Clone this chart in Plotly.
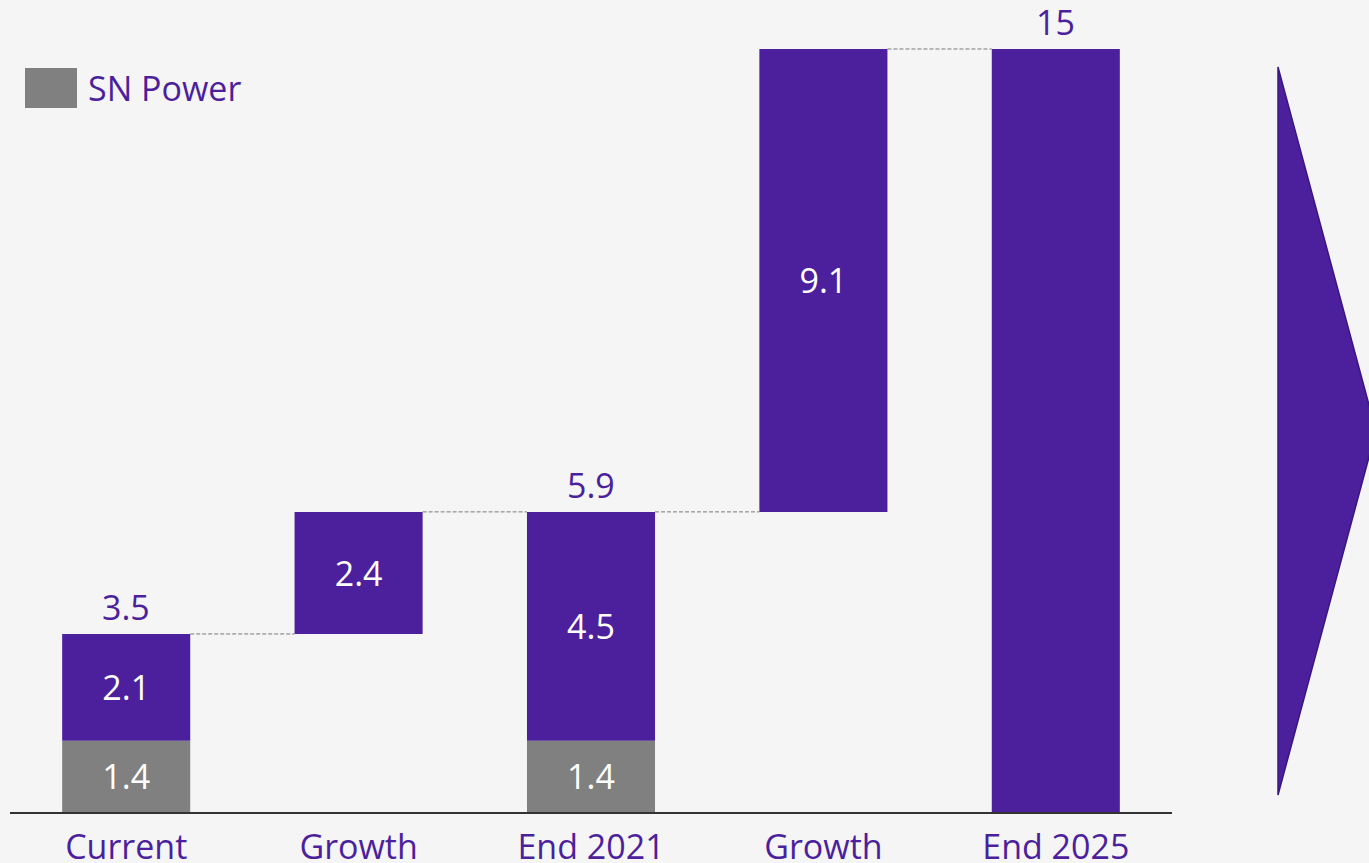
import plotly.graph_objects as go

categories = ["Current", "Growth", "End 2021", "Growth", "End 2025"]
sn_power = [1.4, None, 1.4, None, None]
purple_vals = [2.1, 2.4, 4.5, 9.1, 15]
purple_base = [1.4, 3.5, 1.4, 5.9, 0]
totals = [3.5, None, 5.9, None, 15]
connector_levels = [3.5, 5.9, 5.9, 15]

PURPLE = "#4c1f9c"
GRAY = "#808080"
BG = "#f5f5f5"
FONT = "Open Sans"
FS = 34

x = list(range(len(categories)))

fig = go.Figure()
fig.add_trace(go.Bar(
    x=x, y=sn_power, marker=dict(color=GRAY, line=dict(width=0)),
    text=[f"{v}" if v is not None else "" for v in sn_power],
    textposition="inside", insidetextanchor="middle",
    textfont=dict(color="white", size=FS, family=FONT),
    name="SN Power", showlegend=False, width=0.551,
))
fig.add_trace(go.Bar(
    x=x, y=purple_vals, base=purple_base,
    marker=dict(color=PURPLE, line=dict(width=0)),
    text=[f"{v:g}" if v != 15 else "" for v in purple_vals],
    textposition="inside", insidetextanchor="middle",
    textfont=dict(color="white", size=FS, family=FONT),
    showlegend=False, width=0.551,
))
for xi, t in zip(x, totals):
    if t is None:
        continue
    fig.add_annotation(x=xi, y=t, xref="x", yref="y", text=f"{t:g}",
                       showarrow=False, yanchor="bottom", yshift=2,
                       font=dict(color=PURPLE, size=FS, family=FONT))

half = 0.551 / 2
for i, lvl in enumerate(connector_levels):
    fig.add_shape(type="line", xref="x", yref="y",
                  x0=i + half, x1=i + 1 - half, y0=lvl, y1=lvl,
                  line=dict(color="#7a7a7a", width=1, dash="4px,2px"))

def px(xp):
    return (xp - 10) / 1162
def py(yp):
    return 1 - yp / 812

# legend (manual)
fig.add_shape(type="rect", xref="paper", yref="paper",
              x0=px(25), x1=px(77), y0=py(108), y1=py(68),
              fillcolor=GRAY, line=dict(width=0))
fig.add_annotation(xref="paper", yref="paper", x=px(86), y=py(88),
                   xanchor="left", yanchor="middle", showarrow=False,
                   text="SN Power", font=dict(color=PURPLE, size=FS, family=FONT))

# arrow triangle on the right
fig.add_shape(type="path", xref="paper", yref="paper",
              path=f"M {px(1278)} {py(67)} L {px(1376)} {py(431)} L {px(1278)} {py(795)} Z",
              fillcolor=PURPLE, line=dict(color="#3a1780", width=1.5))

fig.update_layout(
    width=1369, height=863,
    margin=dict(l=10, r=197, t=0, b=51, autoexpand=False),
    paper_bgcolor=BG, plot_bgcolor=BG,
    barmode="overlay",
    font=dict(family=FONT),
    xaxis=dict(
        tickmode="array", tickvals=x, ticktext=categories,
        range=[-0.5, 4.5], showgrid=False, zeroline=False,
        showline=True, linecolor="#333333", linewidth=1.5,
        ticks="", ticklabelstandoff=4, automargin=False,
        tickfont=dict(color=PURPLE, size=FS, family=FONT),
    ),
    yaxis=dict(range=[0, 15.963], visible=False, showgrid=False, zeroline=False,
               automargin=False),
)

fig.write_html("out.html")
